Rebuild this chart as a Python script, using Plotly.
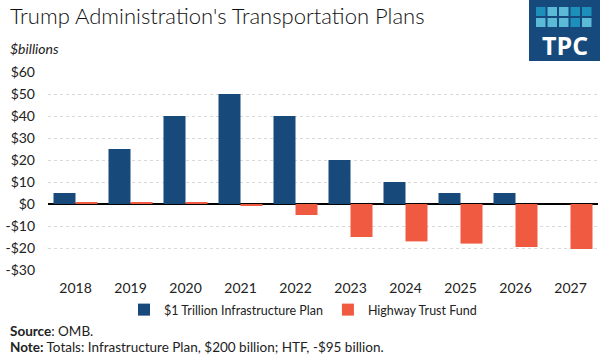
import plotly.graph_objects as go

years = ["2018", "2019", "2020", "2021", "2022", "2023", "2024", "2025", "2026", "2027"]
infrastructure = [5, 25, 40, 50, 40, 20, 10, 5, 5, 0]
highway_trust = [0.5, 0.5, 0.5, -0.5, -5, -15, -17, -18, -19.5, -20.5]
y_ticks = [-30, -20, -10, 0, 10, 20, 30, 40, 50, 60]
y_labels = ["-$30", "-$20", "-$10", "$0", "$10", "$20", "$30", "$40", "$50", "$60"]

BLUE = "#17497B"
RED = "#F05A40"
FONT = "Lato"

fig = go.Figure()
fig.add_bar(x=years, y=infrastructure, name="$1 Trillion Infrastructure Plan",
            marker_color=BLUE, marker_line_width=0)
fig.add_bar(x=years, y=highway_trust, name="Highway Trust Fund",
            marker_color=RED, marker_line_width=0)

# plot area in page pixels: x 48..598, y 72..270
L, R, T, B = 48, 598, 72, 270


def px_x(px):
    return (px - L) / (R - L)


def px_y(py):
    return (B - py) / (B - T)


fig.update_layout(
    width=600, height=360,
    margin=dict(l=L, r=600 - R, t=T, b=360 - B, pad=0),
    paper_bgcolor="white", plot_bgcolor="white",
    barmode="group", bargap=0.2, bargroupgap=0,
    font=dict(family=FONT, color="#222222", size=14),
    showlegend=True,
    legend=dict(orientation="h", x=px_x(124), xanchor="left", y=px_y(295), yanchor="top",
                font=dict(size=12.5, color="#222222"),
                traceorder="normal", itemwidth=30),
    xaxis=dict(showgrid=False, showline=False, ticks="", tickfont=dict(size=14),
               ticklabelstandoff=8),
    yaxis=dict(range=[-30, 60], tickvals=y_ticks, ticktext=y_labels,
               showgrid=True, gridcolor="#D9D9D9", griddash="dot", gridwidth=1,
               zeroline=True, zerolinecolor="#000000", zerolinewidth=1.5,
               tickfont=dict(size=14), ticks="", ticklabelstandoff=12),
)

fig.add_annotation(text="Trump Administration's Transportation Plans", x=px_x(8), y=px_y(16),
                   xref="paper", yref="paper", xanchor="left", yanchor="middle",
                   showarrow=False, font=dict(size=22, color="#111111", weight=300))
fig.add_annotation(text="<i>$billions</i>", x=px_x(8), y=px_y(48),
                   xref="paper", yref="paper", xanchor="left", yanchor="middle",
                   showarrow=False, font=dict(size=14, color="#222222"))
fig.add_annotation(text="<b>Source</b>: OMB.", x=px_x(8), y=px_y(331),
                   xref="paper", yref="paper", xanchor="left", yanchor="middle",
                   showarrow=False, font=dict(size=13.5, color="#222222"))
fig.add_annotation(text="<b>Note:</b> Totals: Infrastructure Plan, $200 billion; HTF, -$95 billion.",
                   x=px_x(8), y=px_y(347),
                   xref="paper", yref="paper", xanchor="left", yanchor="middle",
                   showarrow=False, font=dict(size=13.5, color="#222222"))

# TPC logo
fig.add_shape(type="rect", xref="paper", yref="paper",
              x0=px_x(529), x1=px_x(600), y0=px_y(61), y1=px_y(0),
              fillcolor="#174A7C", line_width=0, layer="above")
dark_t, light_t = "#1C8FBA", "#5BBBD7"
rows = [[dark_t, light_t, light_t, dark_t, dark_t],
        [light_t, light_t, light_t, dark_t, light_t]]
for r, row in enumerate(rows):
    for c, col in enumerate(row):
        x0 = 536 + c * 11.5
        y0 = 7 + r * 11
        fig.add_shape(type="rect", xref="paper", yref="paper",
                      x0=px_x(x0), x1=px_x(x0 + 9.5), y0=px_y(y0 + 9), y1=px_y(y0),
                      fillcolor=col, line_width=0, layer="above")
fig.add_annotation(text="<b>TPC</b>", x=px_x(564.5), y=px_y(45), xref="paper", yref="paper",
                   xanchor="center", yanchor="middle", showarrow=False,
                   font=dict(size=25, color="white", family="Open Sans"))

fig.write_html("out.html", config={"displayModeBar": False},
               post_script="document.body.style.margin='0';")
